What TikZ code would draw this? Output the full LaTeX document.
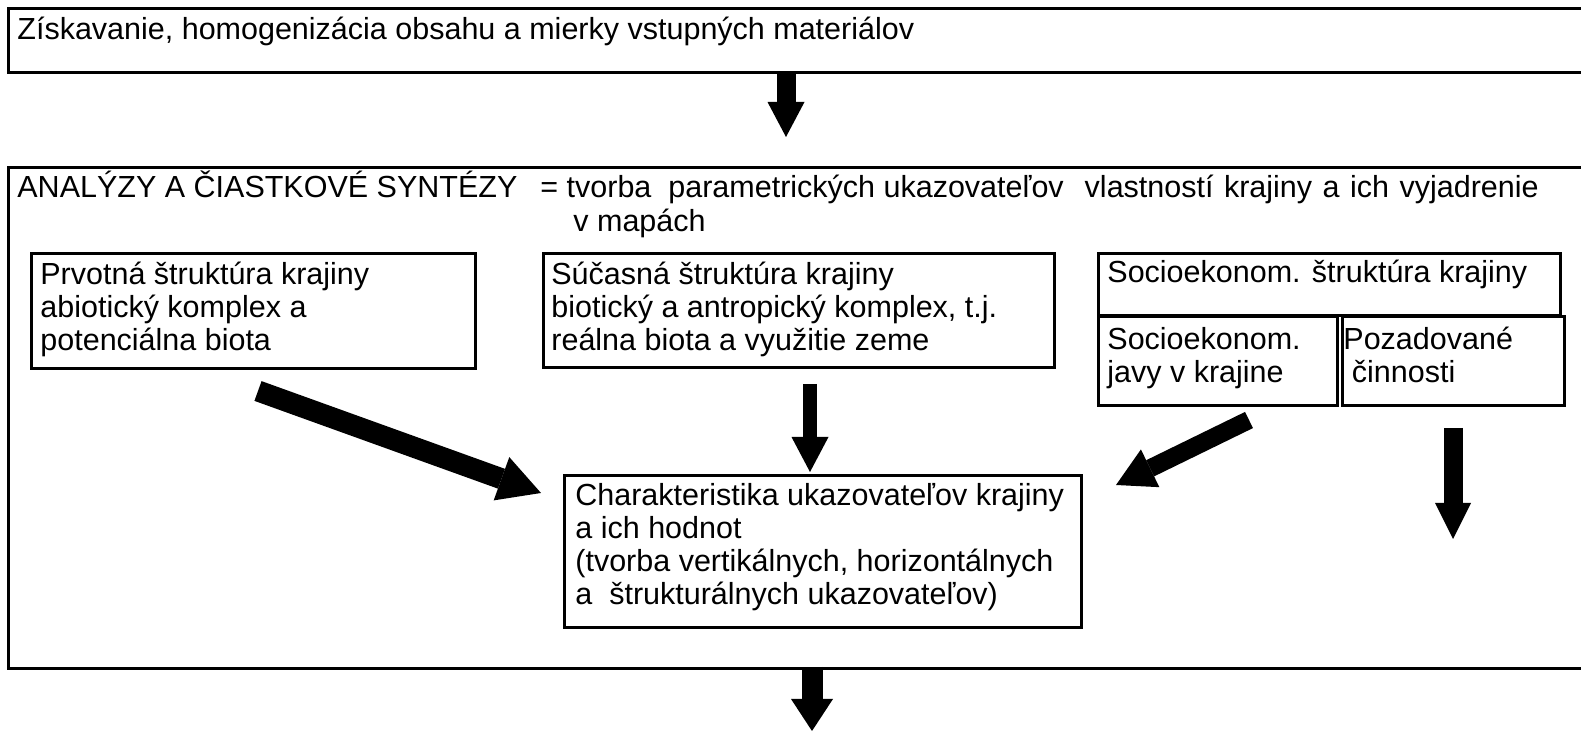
\documentclass[tikz,border=0pt]{standalone}
\usepackage{fontspec}
\setmainfont{Liberation Sans}
\usetikzlibrary{arrows.meta}
\begin{document}
\begin{tikzpicture}[x=0.5pt,y=-0.5pt,
  box/.style={draw=black, line width=1.5pt, inner sep=0pt, anchor=north west},
  txt/.style={font=\fontsize{15.25pt}{16.5pt}\selectfont, inner sep=0pt, anchor=base west, align=left},
  barrow/.style n args={3}{draw=black, line width=#1, -{Triangle[length=#2, width=#3, line width=0pt]}}
]
\useasboundingbox (0,0) rectangle (1581,731);
\clip (0,0) rectangle (1581,731);
\fill[white] (0,0) rectangle (1581,731);

% boxes
\node[box, minimum width=796.5pt, minimum height=32pt] (top) at (7,7) {};
\node[box, minimum width=796.5pt, minimum height=250.5pt] (big) at (7,166) {};
\node[box, minimum width=222pt, minimum height=57.5pt] (prv) at (30,252) {};
\node[box, minimum width=255.5pt, minimum height=57pt] (suc) at (542,252) {};
\node[box, minimum width=231pt, minimum height=31pt] (soc) at (1097,252) {};
\node[box, minimum width=119.5pt, minimum height=44.5pt] (javy) at (1097,315) {};
\node[box, minimum width=111pt, minimum height=44.5pt] (poz) at (1341,315) {};
\node[box, minimum width=258.5pt, minimum height=76pt] (char) at (563,474) {};

% texts (anchor = baseline of the last line)
\node[txt] (topT) at (17,40) {Získavanie, homogenizácia obsahu a mierky vstupných materiálov};
\node[txt] (bigT) at (17,198) {ANALÝZY A ČIASTKOVÉ SYNTÉZY\hspace{11.5pt}= tvorba\ \ parametrických ukazovateľov\hspace{10.5pt}vlastností\hspace{5.25pt}krajiny\hspace{5.25pt}a\hspace{5.25pt}ich\hspace{5.25pt}vyjadrenie};
\node[txt] (bigT2) at (573,232) {v mapách};
\node[txt] (prvT) at (40,351) {Prvotná štruktúra krajiny\\abiotický komplex a\\potenciálna biota};
\node[txt] (sucT) at (551,351) {Súčasná štruktúra krajiny\\biotický a antropický komplex, t.j.\\reálna biota a využitie zeme};
\node[txt] (socT) at (1107,283) {Socioekonom. štruktúra krajiny};
\node[txt] (javyT) at (1107,383) {Socioekonom.\\javy v krajine};
\node[txt] (pozT) at (1343,383) {Pozadované\\\hspace*{4.25pt}činnosti};
\node[txt] (charT) at (575,605) {Charakteristika ukazovateľov krajiny\\a ich hodnot\\(tvorba vertikálnych, horizontálnych\\a\ \ štrukturálnych ukazovateľov)};

% arrow end points
\coordinate (a1s) at (786,72);   \coordinate (a1e) at (786,137);
\coordinate (a2s) at (258,391);  \coordinate (a2e) at (541,493);
\coordinate (a3s) at (810,384);  \coordinate (a3e) at (810,472);
\coordinate (a4s) at (1249,420); \coordinate (a4e) at (1116,485);
\coordinate (a5s) at (1453,428); \coordinate (a5e) at (1453,539);
\coordinate (a6s) at (812,667);  \coordinate (a6e) at (812,731);

\draw[barrow={9.5pt}{17.5pt}{18.5pt}] (a1s) -- (a1e);
\draw[barrow={10.5pt}{21pt}{23pt}] (a2s) -- (a2e);
\draw[barrow={7pt}{17.5pt}{18.5pt}] (a3s) -- (a3e);
\draw[barrow={9pt}{19pt}{21pt}] (a4s) -- (a4e);
\draw[barrow={9.5pt}{18pt}{18pt}] (a5s) -- (a5e);
\draw[barrow={10.5pt}{16pt}{21pt}] (a6s) -- (a6e);
\end{tikzpicture}
\end{document}
